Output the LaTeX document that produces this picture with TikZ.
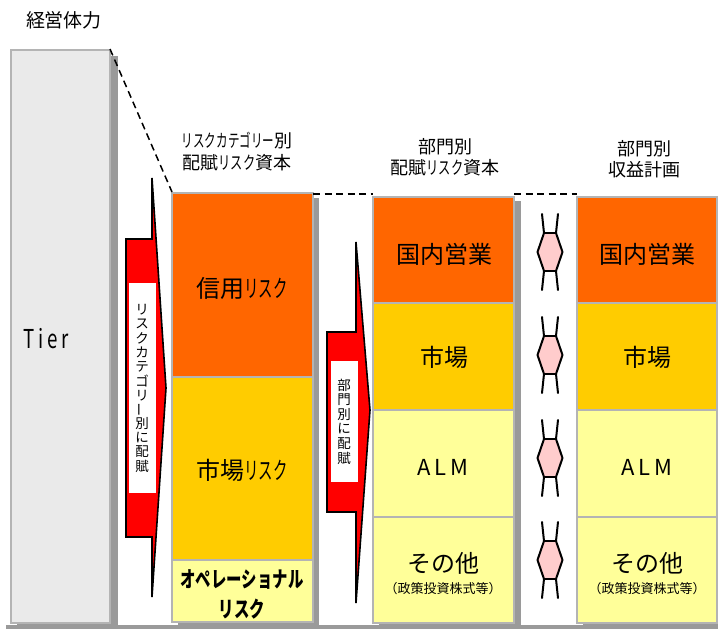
\documentclass[tikz,border=0pt]{standalone}
\usepackage{fontspec}
\setmainfont{Noto Sans CJK JP}
\definecolor{cellgray}{HTML}{B4B4B4}
\definecolor{shadowgray}{HTML}{9A9A9A}
\definecolor{tierfill}{HTML}{EAEAEA}
\definecolor{orng}{HTML}{FF6600}
\definecolor{gold}{HTML}{FFCC00}
\definecolor{paleyel}{HTML}{FFFF99}
\definecolor{pinkc}{HTML}{FFCCCC}
\newcommand{\hankaku}[2][0.62]{\scalebox{#1}[1]{#2}}
\begin{document}
\begin{tikzpicture}[x=1pt,y=-1pt,
  cell/.style={draw=cellgray, line width=2.6pt, inner sep=0pt, outer sep=0pt},
  shadowbox/.style={fill=shadowgray},
  bigtxt/.style={font=\fontsize{24}{28}\selectfont, inner sep=0pt},
  smalltxt/.style={font=\fontsize{13}{15}\selectfont, inner sep=0pt},
  head/.style={font=\fontsize{18}{21.5}\selectfont, align=center, inner sep=0pt},
  vch/.style={font=\fontsize{13.5}{14}\selectfont, inner sep=0pt},
  arrowbody/.style={fill=red, draw=black, line width=1.6pt, line join=miter},
  labelbox/.style={fill=white, draw=none},
  linkline/.style={draw=black, line width=2pt, line cap=round, line join=round},
  dashline/.style={draw=black, dash pattern=on 7pt off 4.5pt, line width=1.5pt},
  linkpic/.pic={
    \fill[pinkc] (-6,-19) -- (6,-19) -- (12.5,0) -- (6,19) -- (-6,19) -- (-12.5,0) -- cycle;
    \draw[linkline] (-8,-38) -- (-6,-19) -- (-12.5,0) -- (-6,19) -- (-8,38);
    \draw[linkline] (8,-38) -- (6,-19) -- (12.5,0) -- (6,19) -- (8,38);
    \draw[linkline] (-6,-19) -- (6,-19);
    \draw[linkline] (-6,19) -- (6,19);
  }]
\useasboundingbox (0,0) rectangle (718,629);

% bottom strip and shadows
\fill[shadowgray] (6,624.5) rectangle (718,629);
\fill[shadowbox] (17,56) rectangle (118,629);
\fill[shadowbox] (178,198) rectangle (318.5,628);
\fill[shadowbox] (379,201) rectangle (520.5,629);
\fill[shadowbox] (583,201) rectangle (724,629);

% Tier column
\node[cell, fill=tierfill, minimum width=99pt, minimum height=573pt] (tier) at (60.5,336.5) {};
\node[font=\fontsize{26}{30}\selectfont, inner sep=0pt] (tiertxt) at (46,339) {\scalebox{0.72}[1]{T\hspace{5pt}i\hspace{5pt}e\hspace{5pt}r}};
\node[font=\fontsize{19}{22}\selectfont, inner sep=0pt] (keiei) at (64,20) {経営体力};

% Column 1: risk categories
\node[cell, fill=orng, minimum width=141pt, minimum height=184pt] (credit) at (242.5,285) {};
\node[cell, fill=gold, minimum width=141pt, minimum height=183pt] (market1) at (242.5,468.5) {};
\node[cell, fill=paleyel, minimum width=141pt, minimum height=62pt] (oprisk) at (242.5,591) {};
\node[bigtxt] (credittxt) at (242,288) {信用\hankaku[0.6]{リスク}};
\node[bigtxt] (market1txt) at (242,470) {市場\hankaku[0.6]{リスク}};
\node[font=\fontsize{22}{30}\selectfont\bfseries, align=center, inner sep=0pt] (optxt) at (242,594) {\hankaku[0.7]{オペレーショナル}\\\hankaku[0.7]{リスク}};

% Column 2: allocated by department
\node[cell, fill=orng, minimum width=141pt, minimum height=106pt] (dom2) at (443.5,250) {};
\node[cell, fill=gold, minimum width=141pt, minimum height=107pt] (mkt2) at (443.5,356.5) {};
\node[cell, fill=paleyel, minimum width=141pt, minimum height=107pt] (alm2) at (443.5,463.5) {};
\node[cell, fill=paleyel, minimum width=141pt, minimum height=106pt] (oth2) at (443.5,570) {};
\node[bigtxt] (dom2txt) at (444,254) {国内営業};
\node[bigtxt] (mkt2txt) at (444,357) {市場};
\node[bigtxt, font=\fontsize{22}{26}\selectfont] (alm2txt) at (443,467) {A\hspace{4pt}L\hspace{4pt}M};
\node[bigtxt] (oth2txt) at (443,563) {その他};
\node[smalltxt] (oth2sub) at (443,589) {（政策投資株式等）};

% Column 3: profit plan by department
\node[cell, fill=orng, minimum width=140pt, minimum height=106pt] (dom3) at (647,250) {};
\node[cell, fill=gold, minimum width=140pt, minimum height=107pt] (mkt3) at (647,356.5) {};
\node[cell, fill=paleyel, minimum width=140pt, minimum height=107pt] (alm3) at (647,463.5) {};
\node[cell, fill=paleyel, minimum width=140pt, minimum height=106pt] (oth3) at (647,570) {};
\node[bigtxt] (dom3txt) at (647,254) {国内営業};
\node[bigtxt] (mkt3txt) at (647,357) {市場};
\node[bigtxt, font=\fontsize{22}{26}\selectfont] (alm3txt) at (647,467) {A\hspace{4pt}L\hspace{4pt}M};
\node[bigtxt] (oth3txt) at (647,563) {その他};
\node[smalltxt] (oth3sub) at (647,589) {（政策投資株式等）};

% headings
\node[head] (h1) at (237,151.5) {\hankaku[0.64]{リスクカテゴリー}別\\配賦\hankaku[0.68]{リスク}資本};
\node[head] (h2) at (445,157) {部門別\\配賦\hankaku[0.68]{リスク}資本};
\node[head] (h3) at (644,159) {部門別\\収益計画};

% dashed zoom lines
\coordinate (tierNE) at (110,49);
\coordinate (c1NW) at (172,192);
\coordinate (c1NE) at (313,194);
\coordinate (c2NW) at (373,194);
\coordinate (c2NE) at (514,194);
\coordinate (c3NW) at (577,194);
\draw[dashline] (tierNE) -- (c1NW);
\draw[dashline] (c1NE) -- (c2NW);
\draw[dashline] (c2NE) -- (c3NW);

% arrow 1
\draw[arrowbody] (152,178) -- (166,388) -- (152,597) -- (152,537) -- (126,537) -- (126,239) -- (152,239) -- cycle;
\fill[labelbox] (129,283) rectangle (156,493);
\foreach \ch/\r [count=\i] in {リ/0,ス/0,ク/0,カ/0,テ/0,ゴ/0,リ/0,ー/90,別/0,に/0,配/0,賦/0}{
  \node[vch, rotate=\r] (va\i) at (142,{310+(\i-1)*14.2}) {\ch};
}

% arrow 2
\draw[arrowbody] (356,242) -- (370,410) -- (356,603) -- (356,512) -- (327,512) -- (327,332) -- (356,332) -- cycle;
\fill[labelbox] (331,361) rectangle (358,482);
\foreach \ch [count=\i] in {部,門,別,に,配,賦}{
  \node[vch] (vb\i) at (344,{385+(\i-1)*14.6}) {\ch};
}

% links between column 2 and column 3
\foreach \yy in {252,355,458,560}{
  \pic at (550,\yy) {linkpic};
}
\end{tikzpicture}
\end{document}
